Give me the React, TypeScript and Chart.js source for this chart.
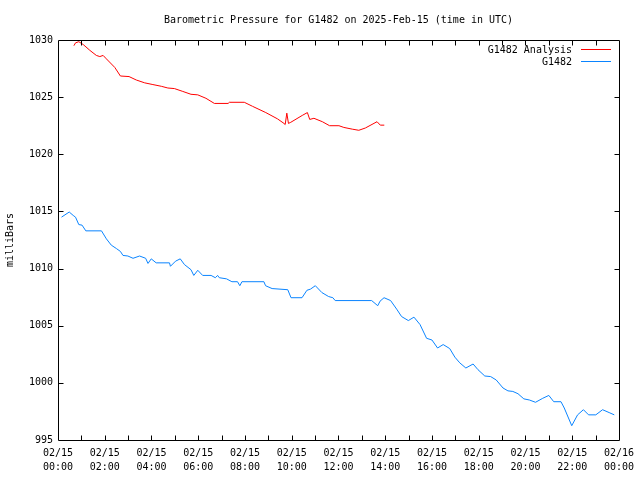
import React, { useEffect, useRef } from "react";
import { Chart, registerables } from "chart.js";

Chart.register(...registerables);

const chartTitle = "Barometric Pressure for G1482 on 2025-Feb-15 (time in UTC)";
const yAxisTitle = "milliBars";

const xTickDates = ["02/15", "02/15", "02/15", "02/15", "02/15", "02/15", "02/15", "02/15", "02/15", "02/15", "02/15", "02/15", "02/16"];
const xTickTimes = ["00:00", "02:00", "04:00", "06:00", "08:00", "10:00", "12:00", "14:00", "16:00", "18:00", "20:00", "22:00", "00:00"];

const analysisLabel = "G1482 Analysis";
const analysisColor = "rgb(255, 0, 0)";
const analysisHours = [0.68, 0.75, 0.89, 1.08, 1.36, 1.64, 1.79, 1.93, 2.07, 2.43, 2.67, 3.04, 3.35, 3.71, 4.06, 4.42, 4.70, 4.98, 5.34, 5.69, 5.98, 6.33, 6.69, 7.28, 7.33, 7.97, 8.32, 8.89, 9.39, 9.67, 9.72, 9.79, 9.86, 9.96, 10.45, 10.67, 10.77, 10.95, 11.31, 11.62, 12.02, 12.23, 12.59, 12.87, 13.15, 13.65, 13.79, 13.96];
const analysisValues = [1029.5, 1029.75, 1029.85, 1029.6, 1029.1, 1028.65, 1028.55, 1028.65, 1028.35, 1027.6, 1026.85, 1026.8, 1026.5, 1026.25, 1026.1, 1025.95, 1025.8, 1025.75, 1025.5, 1025.25, 1025.2, 1024.9, 1024.45, 1024.45, 1024.55, 1024.55, 1024.2, 1023.65, 1023.1, 1022.7, 1022.6, 1023.6, 1022.7, 1022.8, 1023.4, 1023.65, 1023.05, 1023.15, 1022.85, 1022.5, 1022.5, 1022.35, 1022.2, 1022.1, 1022.3, 1022.85, 1022.55, 1022.55];

const stationLabel = "G1482";
const stationColor = "rgb(10, 132, 255)";
const stationHours = [0.15, 0.48, 0.65, 0.75, 0.89, 1.03, 1.19, 1.86, 2.07, 2.28, 2.50, 2.67, 2.78, 2.99, 3.21, 3.49, 3.75, 3.85, 3.99, 4.20, 4.77, 4.81, 5.03, 5.23, 5.41, 5.69, 5.81, 5.98, 6.19, 6.55, 6.73, 6.83, 6.90, 7.21, 7.44, 7.68, 7.78, 7.87, 8.81, 8.88, 9.16, 9.83, 9.97, 10.44, 10.65, 10.80, 11.01, 11.29, 11.58, 11.76, 11.86, 13.42, 13.68, 13.78, 13.95, 14.23, 14.49, 14.70, 14.99, 15.23, 15.49, 15.77, 16.00, 16.24, 16.48, 16.76, 16.98, 17.19, 17.45, 17.76, 17.97, 18.26, 18.51, 18.75, 19.04, 19.25, 19.46, 19.68, 19.93, 20.17, 20.43, 20.74, 21.00, 21.21, 21.52, 21.66, 21.98, 22.23, 22.48, 22.70, 23.01, 23.30, 23.58, 23.80];
const stationValues = [1014.5, 1014.95, 1014.65, 1014.5, 1013.85, 1013.8, 1013.3, 1013.3, 1012.6, 1012.05, 1011.75, 1011.5, 1011.15, 1011.1, 1010.9, 1011.1, 1010.9, 1010.45, 1010.85, 1010.5, 1010.5, 1010.2, 1010.65, 1010.85, 1010.35, 1009.9, 1009.4, 1009.85, 1009.4, 1009.4, 1009.2, 1009.4, 1009.2, 1009.1, 1008.85, 1008.85, 1008.5, 1008.85, 1008.85, 1008.5, 1008.25, 1008.15, 1007.45, 1007.45, 1008.1, 1008.2, 1008.5, 1007.9, 1007.55, 1007.45, 1007.2, 1007.2, 1006.75, 1007.15, 1007.45, 1007.2, 1006.45, 1005.8, 1005.45, 1005.75, 1005.1, 1003.9, 1003.75, 1003.05, 1003.35, 1003.0, 1002.25, 1001.75, 1001.3, 1001.65, 1001.15, 1000.6, 1000.55, 1000.25, 999.55, 999.3, 999.25, 999.05, 998.6, 998.5, 998.3, 998.65, 998.9, 998.35, 998.35, 997.8, 996.25, 997.2, 997.65, 997.2, 997.2, 997.65, 997.4, 997.2];

const Y_MIN = 995;
const Y_MAX = 1030;
const Y_STEP = 5;
const X_MIN = 0;
const X_MAX = 24;

const FONT = "'DejaVu Sans Mono', monospace";
const legendEntries = [
  { label: analysisLabel, color: analysisColor },
  { label: stationLabel, color: stationColor },
];

const framePlugin = {
  id: "gnuFrame",
  afterDatasetsDraw(chart: any) {
    const { ctx, chartArea, scales } = chart;
    const { left, right, top, bottom } = chartArea;
    const L = Math.round(left) + 0.5;
    const R = Math.round(right) + 0.5;
    const T = Math.round(top) + 0.5;
    const B = Math.round(bottom) + 0.5;
    ctx.save();
    ctx.strokeStyle = "#000000";
    ctx.lineWidth = 1;
    ctx.beginPath();
    ctx.rect(L, T, R - L, B - T);
    for (let h = X_MIN + 1; h < X_MAX; h++) {
      const px = Math.round(scales.x.getPixelForValue(h)) + 0.5;
      ctx.moveTo(px, B);
      ctx.lineTo(px, B - 5);
      ctx.moveTo(px, T);
      ctx.lineTo(px, T + 5);
    }
    for (let v = Y_MIN + Y_STEP; v < Y_MAX; v += Y_STEP) {
      const py = Math.round(scales.y.getPixelForValue(v)) + 0.5;
      ctx.moveTo(L, py);
      ctx.lineTo(L + 5, py);
      ctx.moveTo(R, py);
      ctx.lineTo(R - 5, py);
    }
    ctx.stroke();
    ctx.restore();
  },
  afterDraw(chart: any) {
    const ctx = chart.ctx;
    legendEntries.forEach((entry, i) => {
      const y = 50 + i * 12;
      ctx.save();
      ctx.font = "10px " + FONT;
      ctx.textAlign = "right";
      ctx.textBaseline = "middle";
      ctx.fillStyle = "#000000";
      ctx.fillText(entry.label, 572, y);
      ctx.fillStyle = entry.color;
      ctx.fillRect(581, y - 1, 30, 1);
      ctx.restore();
    });
  },
};

export default function App() {
  const canvasRef = useRef<HTMLCanvasElement | null>(null);

  useEffect(() => {
    if (!canvasRef.current) return;
    Chart.defaults.font.family = FONT;
    Chart.defaults.font.size = 10;
    Chart.defaults.color = "#000";

    const chart = new Chart(canvasRef.current, {
      type: "line",
      data: {
        datasets: [
          {
            label: analysisLabel,
            data: analysisHours.map((h, i) => ({ x: h, y: analysisValues[i] })),
            borderColor: analysisColor,
            backgroundColor: analysisColor,
            borderWidth: 1,
            pointRadius: 0,
            tension: 0,
            fill: false,
          },
          {
            label: stationLabel,
            data: stationHours.map((h, i) => ({ x: h, y: stationValues[i] })),
            borderColor: stationColor,
            backgroundColor: stationColor,
            borderWidth: 1,
            pointRadius: 0,
            tension: 0,
            fill: false,
          },
        ],
      },
      options: {
        animation: false,
        responsive: false,
        maintainAspectRatio: false,
        layout: { padding: { left: 0, right: 19, top: 0, bottom: 0 } },
        plugins: {
          legend: { display: false },
          tooltip: { enabled: false },
          title: {
            display: true,
            text: chartTitle,
            fullSize: false,
            color: "#000",
            font: { family: FONT, size: 10, weight: "normal", lineHeight: 1.2 },
            padding: { top: 14, bottom: 14 },
          },
        },
        scales: {
          x: {
            type: "linear",
            min: X_MIN,
            max: X_MAX,
            grid: { display: false, drawTicks: false },
            border: { display: false },
            ticks: {
              stepSize: 1,
              autoSkip: false,
              maxRotation: 0,
              minRotation: 0,
              padding: 6,
              font: { family: FONT, size: 10, lineHeight: 1.4 },
              callback: (value: any) => {
                const v = Number(value);
                if (v % 2 !== 0) return "";
                const idx = v / 2;
                return [xTickDates[idx], xTickTimes[idx]];
              },
            },
            afterFit: (scale: any) => {
              scale.height = 40;
            },
          },
          y: {
            type: "linear",
            min: Y_MIN,
            max: Y_MAX,
            grid: { display: false, drawTicks: false },
            border: { display: false },
            ticks: {
              stepSize: Y_STEP,
              padding: 5,
              font: { family: FONT, size: 10 },
              callback: (value: any) => String(value),
            },
            title: {
              display: true,
              text: yAxisTitle,
              color: "#000",
              font: { family: FONT, size: 10, lineHeight: 1.2 },
              padding: { top: 4, bottom: 0 },
            },
            afterFit: (scale: any) => {
              scale.width = 58;
            },
          },
        },
      },
      plugins: [framePlugin],
    });
    return () => chart.destroy();
  }, []);

  return (
    <div style={{ position: "fixed", left: 0, top: 0, width: 640, height: 480, background: "#fff" }}>
      <canvas ref={canvasRef} width={640} height={480} style={{ width: 640, height: 480 }} />
    </div>
  );
}
